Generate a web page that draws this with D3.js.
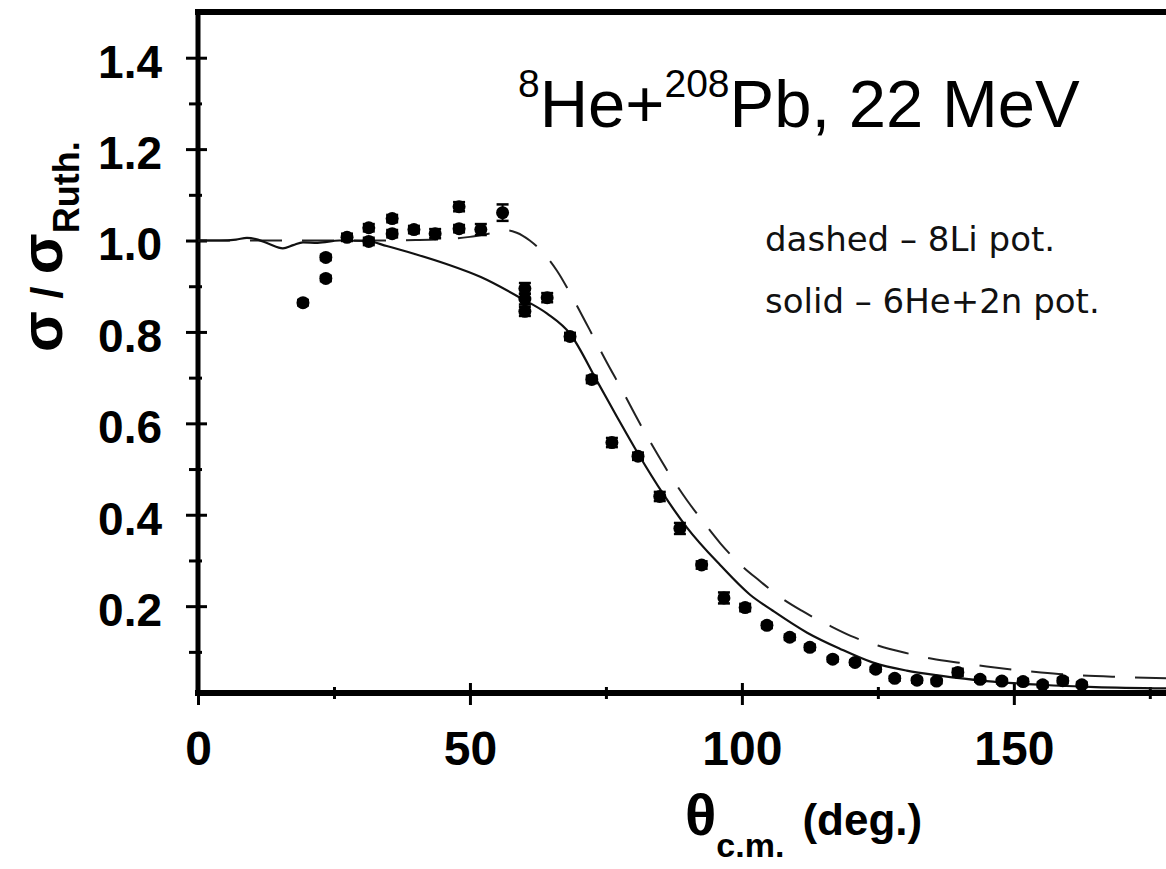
<!DOCTYPE html>
<html>
<head>
<meta charset="utf-8">
<script src="https://cdn.jsdelivr.net/npm/d3@7"></script>
<style>
  html, body { margin: 0; padding: 0; background: #fff; }
  svg { display: block; }
</style>
</head>
<body>
<svg id="chart" width="1166" height="869"></svg>
<script>
// Measured elastic scattering ratio sigma/sigma_Ruth (8He + 208Pb, 22 MeV)
const dataTheta = [19.3, 23.5, 23.5, 27.4, 31.4, 31.4, 35.7, 35.7, 39.7, 43.6, 48.0, 48.0, 52.0, 56.0,
  60.1, 60.1, 60.1, 64.2, 68.4, 72.4, 76.1, 80.9, 84.9, 88.6, 92.6, 96.7, 100.6, 104.6, 108.8, 112.5,
  116.7, 120.8, 124.6, 128.1, 132.2, 135.8, 139.7, 143.8, 147.8, 151.7, 155.3, 159.0, 162.5];
const dataRatio = [0.864, 0.963, 0.917, 1.007, 1.028, 0.998, 1.048, 1.015, 1.024, 1.015, 1.074, 1.026, 1.024, 1.061,
  0.895, 0.872, 0.845, 0.875, 0.790, 0.696, 0.558, 0.528, 0.440, 0.370, 0.290, 0.218, 0.197, 0.158, 0.132, 0.110,
  0.084, 0.077, 0.062, 0.042, 0.038, 0.036, 0.055, 0.040, 0.036, 0.035, 0.028, 0.037, 0.028];
const dataError = [0.006, 0.006, 0.006, 0.008, 0.008, 0.008, 0.008, 0.008, 0.008, 0.010, 0.010, 0.008, 0.012, 0.018,
  0.012, 0.012, 0.010, 0.010, 0.008, 0.008, 0.010, 0.008, 0.010, 0.012, 0.008, 0.012, 0.008, 0.006, 0.006, 0.006,
  0.005, 0.005, 0.005, 0.005, 0.005, 0.005, 0.008, 0.005, 0.005, 0.006, 0.005, 0.006, 0.005];

// Calculation with the 6He+2n potential (solid)
const solidTheta = [0, 4, 7, 9, 11, 13, 15.6, 17.5, 19.3, 22, 26, 31, 34.7, 40, 45.8, 52, 59.2, 64.2, 68.4,
  73.3, 77, 80.9, 85.5, 89.9, 96, 101.5, 105.7, 112, 118, 124, 130.3, 136.4, 145, 155, 165, 180];
const solidRatio = [1.0, 1.0, 1.002, 1.006, 1.002, 0.993, 0.983, 0.99, 0.996, 0.995, 1.0, 0.999, 0.988, 0.97, 0.948,
  0.92, 0.875, 0.84, 0.796, 0.694, 0.615, 0.534, 0.446, 0.372, 0.29, 0.225, 0.19, 0.142, 0.107, 0.077, 0.059,
  0.048, 0.036, 0.028, 0.023, 0.02];

// Calculation with the 8Li potential (dashed)
const dashedTheta = [0, 20, 30, 40, 46, 50, 54, 57, 58.6, 61, 63.4, 66, 69, 72, 75, 78, 81, 84, 87, 90, 93, 96,
  100, 103.3, 107, 111, 116, 120, 125, 130, 135, 140, 145, 150, 155, 160, 170, 180];
const dashedRatio = [1.0, 1.0, 1.0, 1.001, 1.003, 1.008, 1.016, 1.022, 1.017, 1.0, 0.974, 0.934, 0.872, 0.805,
  0.737, 0.672, 0.605, 0.542, 0.483, 0.43, 0.383, 0.338, 0.288, 0.255, 0.22, 0.19, 0.158, 0.135, 0.114, 0.098,
  0.085, 0.076, 0.068, 0.061, 0.055, 0.05, 0.045, 0.042];

const xMajorTicks = [0, 50, 100, 150];
const xMinorTicks = [25, 75, 125, 175];
const yMajorTicks = [0.2, 0.4, 0.6, 0.8, 1.0, 1.2, 1.4];
const yMinorTicks = [0.1, 0.3, 0.5, 0.7, 0.9, 1.1, 1.3];

const svg = d3.select("#chart");

const x = d3.scaleLinear().domain([0, 180]).range([198, 1177]);
const y = d3.scaleLinear().domain([0.01, 1.5]).range([693, 12]);

const tickFont = "'Liberation Sans', Arial, Helvetica, sans-serif";

// ---- y axis ticks (major ticks cross the axis line) ----
const yMajor = svg.append("g").attr("transform", `translate(${x(0)},0)`)
  .call(d3.axisLeft(y).tickValues(yMajorTicks).tickSize(12).tickPadding(24).tickFormat(d3.format(".1f")));
yMajor.select(".domain").remove();
yMajor.selectAll(".tick line").attr("x1", 9).attr("stroke", "#000").attr("stroke-width", 3);
yMajor.selectAll(".tick text")
  .attr("font-family", tickFont).attr("font-size", 46).attr("font-weight", "bold")
  .attr("fill", "#000").attr("dy", "0.42em");

const yMinor = svg.append("g").attr("transform", `translate(${x(0)},0)`)
  .call(d3.axisLeft(y).tickValues(yMinorTicks).tickSize(9).tickFormat(""));
yMinor.select(".domain").remove();
yMinor.selectAll(".tick line").attr("x1", 4).attr("stroke", "#000").attr("stroke-width", 3);

// ---- x axis ticks ----
const xMajor = svg.append("g").attr("transform", `translate(0,${y(0.01)})`)
  .call(d3.axisBottom(x).tickValues(xMajorTicks).tickSize(12).tickPadding(26).tickFormat(d3.format("d")));
xMajor.select(".domain").remove();
xMajor.selectAll(".tick line").attr("y1", -10).attr("stroke", "#000").attr("stroke-width", 3);
xMajor.selectAll(".tick text")
  .attr("font-family", tickFont).attr("font-size", 48).attr("font-weight", "bold").attr("fill", "#000");

const xMinor = svg.append("g").attr("transform", `translate(0,${y(0.01)})`)
  .call(d3.axisBottom(x).tickValues(xMinorTicks).tickSize(6).tickFormat(""));
xMinor.select(".domain").remove();
xMinor.selectAll(".tick line").attr("y1", -6).attr("stroke", "#000").attr("stroke-width", 3);

// ---- frame ----
const frame = svg.append("g").attr("stroke", "#000").attr("stroke-linecap", "square");
frame.append("line").attr("x1", x(0)).attr("x2", x(180)).attr("y1", y(1.5)).attr("y2", y(1.5)).attr("stroke-width", 6);
frame.append("line").attr("x1", x(0)).attr("x2", x(180)).attr("y1", y(0.01)).attr("y2", y(0.01)).attr("stroke-width", 6);
frame.append("line").attr("x1", x(0)).attr("x2", x(0)).attr("y1", y(1.5)).attr("y2", y(0.01)).attr("stroke-width", 5);
frame.append("line").attr("x1", x(180)).attr("x2", x(180)).attr("y1", y(1.5)).attr("y2", y(0.01)).attr("stroke-width", 5);

// ---- calculated curves ----
const line = d3.line().x(d => x(d[0])).y(d => y(d[1])).curve(d3.curveMonotoneX);

svg.append("path")
  .datum(dashedTheta.map((t, i) => [t, dashedRatio[i]]))
  .attr("d", line).attr("fill", "none").attr("stroke", "#222")
  .attr("stroke-width", 2).attr("stroke-dasharray", "32,20");

svg.append("path")
  .datum(solidTheta.map((t, i) => [t, solidRatio[i]]))
  .attr("d", line).attr("fill", "none").attr("stroke", "#111").attr("stroke-width", 2.2);

// ---- data points with error bars ----
const pts = dataTheta.map((t, i) => ({ t, r: dataRatio[i], e: dataError[i] }));
const pg = svg.append("g");
const bars = pg.selectAll("g.pt").data(pts).join("g").attr("class", "pt");
bars.append("line")
  .attr("x1", d => x(d.t)).attr("x2", d => x(d.t))
  .attr("y1", d => y(d.r - d.e)).attr("y2", d => y(d.r + d.e))
  .attr("stroke", "#000").attr("stroke-width", 2);
bars.append("line")
  .attr("x1", d => x(d.t) - 6).attr("x2", d => x(d.t) + 6)
  .attr("y1", d => y(d.r + d.e)).attr("y2", d => y(d.r + d.e))
  .attr("stroke", "#000").attr("stroke-width", 2.5);
bars.append("line")
  .attr("x1", d => x(d.t) - 6).attr("x2", d => x(d.t) + 6)
  .attr("y1", d => y(d.r - d.e)).attr("y2", d => y(d.r - d.e))
  .attr("stroke", "#000").attr("stroke-width", 2.5);
bars.append("circle")
  .attr("cx", d => x(d.t)).attr("cy", d => y(d.r)).attr("r", 6.5).attr("fill", "#000");

// ---- title ----
const title = svg.append("text")
  .attr("x", 518).attr("y", 127)
  .attr("font-family", tickFont).attr("font-size", 67).attr("fill", "#000");
title.append("tspan").attr("font-size", 39).attr("dy", -30).text("8");
title.append("tspan").attr("dy", 30).text("He+");
title.append("tspan").attr("font-size", 39).attr("dy", -30).text("208");
title.append("tspan").attr("dy", 30).text("Pb, 22 MeV");

// ---- legend notes ----
const noteFont = "'DejaVu Sans', Verdana, sans-serif";
svg.append("text").attr("x", 765).attr("y", 251)
  .attr("font-family", noteFont).attr("font-size", 34).attr("fill", "#111")
  .text("dashed \u2013 8Li pot.");
svg.append("text").attr("x", 765).attr("y", 313)
  .attr("font-family", noteFont).attr("font-size", 34).attr("fill", "#111")
  .text("solid \u2013 6He+2n pot.");

// ---- axis titles ----
const yTitle = svg.append("text")
  .attr("transform", "translate(62,352) rotate(-90)")
  .attr("font-family", tickFont).attr("font-weight", "bold").attr("fill", "#000");
yTitle.append("tspan").attr("font-size", 60).text("\u03c3");
yTitle.append("tspan").attr("font-size", 44).text(" / ");
yTitle.append("tspan").attr("font-size", 60).text("\u03c3");
yTitle.append("tspan").attr("font-size", 36).attr("dy", 17).text("Ruth.");

const xTitle = svg.append("text")
  .attr("x", 685).attr("y", 835)
  .attr("font-family", tickFont).attr("font-weight", "bold").attr("fill", "#000");
xTitle.append("tspan").attr("font-size", 58).text("\u03b8");
xTitle.append("tspan").attr("font-size", 34).attr("dy", 22).text("c.m.");
xTitle.append("tspan").attr("font-size", 44).attr("dx", 18).attr("dy", -22).text("(deg.)");
</script>
</body>
</html>
